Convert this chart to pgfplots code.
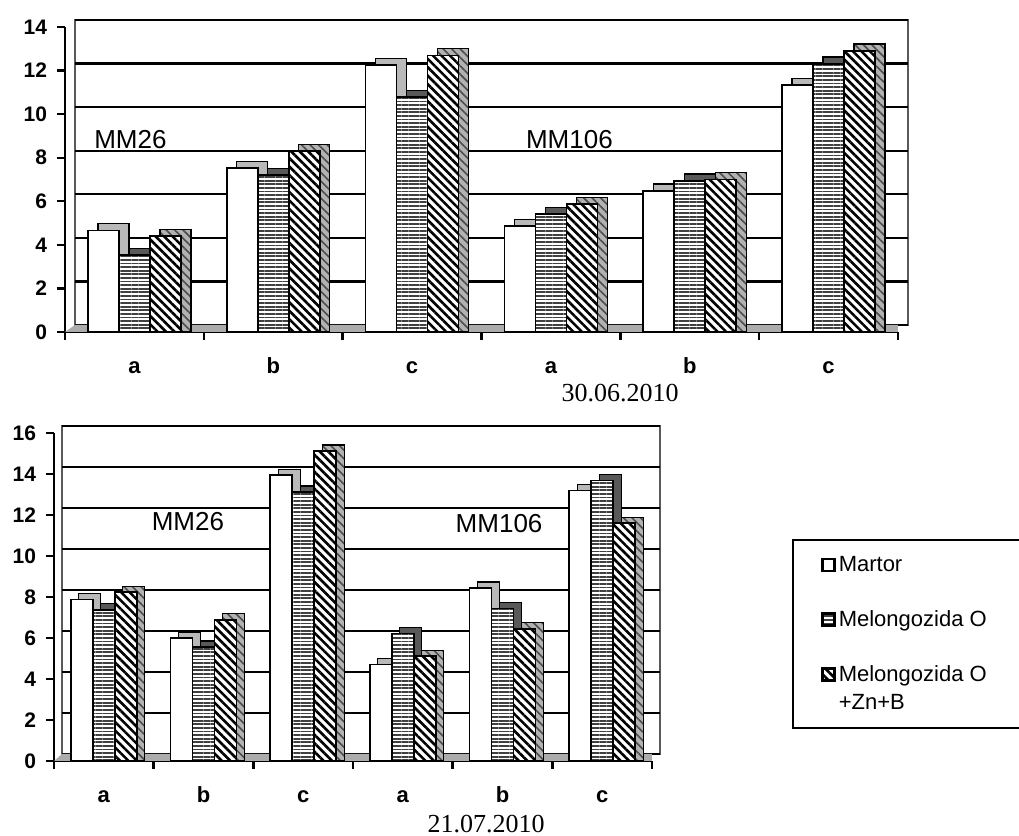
\documentclass[border=0pt]{standalone}
\usepackage{pgfplots}
\pgfplotsset{compat=1.18}
\usepackage{pgfplotstable}
\usepackage{fontspec}
\setmainfont{Liberation Sans}
\newfontfamily\seriffont{Liberation Serif}
\usetikzlibrary{patterns.meta}

\pgfplotstableread{
x m o z
0 4.66 3.53 4.40
1 7.52 7.20 8.30
2 12.25 10.78 12.70
3 4.86 5.41 5.87
4 6.47 6.93 7.00
5 11.33 12.30 12.90
}\tabA
\pgfplotstableread{
x m o z
0 7.87 7.38 8.24
1 6.00 5.56 6.89
2 13.94 13.12 15.12
3 4.70 6.21 5.11
4 8.44 7.43 6.45
5 13.20 13.69 11.60
}\tabB

\pgfplotsset{
 barM/.style={fill=white, draw=black, line width=0.8pt},
 barO/.style={fill=white, draw=black, line width=0.8pt, postaction={pattern={Lines[angle=0,distance=1.8pt,line width=0.9pt]}, pattern color=black!75}},
 barZ/.style={fill=white, draw=black, line width=0.8pt, postaction={pattern={Lines[angle=-45,distance=3pt,line width=1.3pt]}, pattern color=black}},
 shM/.style={fill=gray!55, draw=black, line width=0.6pt},
 shO/.style={fill=black!65, draw=black, line width=0.6pt},
 shZ/.style={fill=gray!60, draw=black, line width=0.6pt, postaction={pattern={Lines[angle=-45,distance=3pt,line width=0.8pt]}, pattern color=black!70}},
 legZ/.style={legend image code/.code={\path (0pt,-10pt); \draw[##1, line width=1.4pt] (0pt,4pt) rectangle (6pt,10pt);}},
 common/.style={
   scale only axis, xmin=-0.5, xmax=5.5, ymin=0,
   axis x line*=bottom, axis y line*=left,
   axis line style={line width=1.2pt, black},
   tick align=outside, major tick length=4pt,
   tick style={line width=1.2pt, black},
   xtick={-0.5,0.5,...,5.5}, xticklabels={},
   extra x ticks={0,1,2,3,4,5}, extra x tick labels={a,b,c,a,b,c},
   extra x tick style={major tick length=0pt, xticklabel style={yshift=-9pt, text height=1.6ex, text depth=0.2ex, font=\fontsize{11}{12}\selectfont\bfseries}},
   ticklabel style={font=\fontsize{10.5}{11}\selectfont\bfseries},
   /pgf/number format/assume math mode=true,
   yticklabel style={xshift=-1.5pt},
   ymajorgrids,
 }
}

\begin{document}
\begin{tikzpicture}
\path[use as bounding box] (0,0) rectangle (509.5pt,418pt);

% ---------- top chart ----------
\begin{axis}[common,
  at={(37.5pt,255.5pt)}, anchor=south west,
  width=416.5pt, height=152.5pt,
  ymax=14, ytick={0,2,...,14},
  major grid style={black, line width=1.1pt, xshift=5pt, yshift=3.5pt},
  axis background/.style={draw=gray!70!black, line width=1pt, xshift=5pt, yshift=3.5pt},
]
\fill[gray!65] (rel axis cs:0,0) -- ([xshift=5pt,yshift=3.5pt]rel axis cs:0,0) -- ([xshift=5pt,yshift=3.5pt]rel axis cs:1,0) -- (rel axis cs:1,0) -- cycle;
\addplot[ybar, bar width=15.5pt, bar shift=-10.5pt, shM, forget plot] table[x=x, y expr=\thisrow{m}+0.32] {\tabA};
\addplot[ybar, bar width=15.5pt, bar shift=-15.5pt, barM] table[x=x, y=m] {\tabA};
\addplot[ybar, bar width=15.5pt, bar shift=5pt, shO, forget plot] table[x=x, y expr=\thisrow{o}+0.32] {\tabA};
\addplot[ybar, bar width=15.5pt, bar shift=0pt, barO] table[x=x, y=o] {\tabA};
\addplot[ybar, bar width=15.5pt, bar shift=20.5pt, shZ, forget plot] table[x=x, y expr=\thisrow{z}+0.32] {\tabA};
\addplot[ybar, bar width=15.5pt, bar shift=15.5pt, barZ] table[x=x, y=z] {\tabA};
\node[anchor=west, font=\fontsize{13}{15}\selectfont] at (axis cs:-0.34,8.85) {MM26};
\node[anchor=west, font=\fontsize{13}{15}\selectfont] at (axis cs:2.77,8.85) {MM106};
\end{axis}
\node[font=\seriffont\fontsize{13}{15}\selectfont] at (310pt,221.5pt) {30.06.2010};

% ---------- bottom chart ----------
\begin{axis}[common,
  at={(31pt,41pt)}, anchor=south west,
  width=299pt, height=164pt,
  ymax=16, ytick={0,2,...,16},
  major grid style={black, line width=1.1pt, xshift=4pt, yshift=3.5pt},
  axis background/.style={draw=gray!70!black, line width=1pt, xshift=4pt, yshift=3.5pt},
  legend style={at={(1.2207,0.6555)}, anchor=north west, draw=black, line width=1pt,
    font=\fontsize{11}{14}\selectfont, row sep=14pt, inner xsep=14pt, inner ysep=6pt,
    nodes={inner xsep=1.5pt}},
  legend cell align=left,
  legend image code/.code={\draw[#1, line width=1.4pt] (0pt,-3pt) rectangle (6pt,3pt);},
]
\fill[gray!65] (rel axis cs:0,0) -- ([xshift=4pt,yshift=3.5pt]rel axis cs:0,0) -- ([xshift=4pt,yshift=3.5pt]rel axis cs:1,0) -- (rel axis cs:1,0) -- cycle;
\addplot[ybar, bar width=11pt, bar shift=-7pt, shM, forget plot] table[x=x, y expr=\thisrow{m}+0.29] {\tabB};
\addplot[ybar, bar width=11pt, bar shift=-11pt, barM] table[x=x, y=m] {\tabB};
\addplot[ybar, bar width=11pt, bar shift=4pt, shO, forget plot] table[x=x, y expr=\thisrow{o}+0.29] {\tabB};
\addplot[ybar, bar width=11pt, bar shift=0pt, barO] table[x=x, y=o] {\tabB};
\addplot[ybar, bar width=11pt, bar shift=15pt, shZ, forget plot] table[x=x, y expr=\thisrow{z}+0.29] {\tabB};
\addplot[ybar, bar width=11pt, bar shift=11pt, barZ, legZ] table[x=x, y=z] {\tabB};
\addlegendentry{\makebox[115pt][l]{Martor}}
\addlegendentry{\makebox[115pt][l]{Melongozida O}}
\addlegendentry[align=left]{\makebox[115pt][l]{Melongozida O}\\+Zn+B}
\node[anchor=west, font=\fontsize{13}{15}\selectfont] at (axis cs:0.41,11.66) {MM26};
\node[anchor=west, font=\fontsize{13}{15}\selectfont] at (axis cs:3.46,11.56) {MM106};
\end{axis}
\node[font=\seriffont\fontsize{13}{15}\selectfont, anchor=base] at (243pt,1.5pt) {21.07.2010};
\end{tikzpicture}
\end{document}
